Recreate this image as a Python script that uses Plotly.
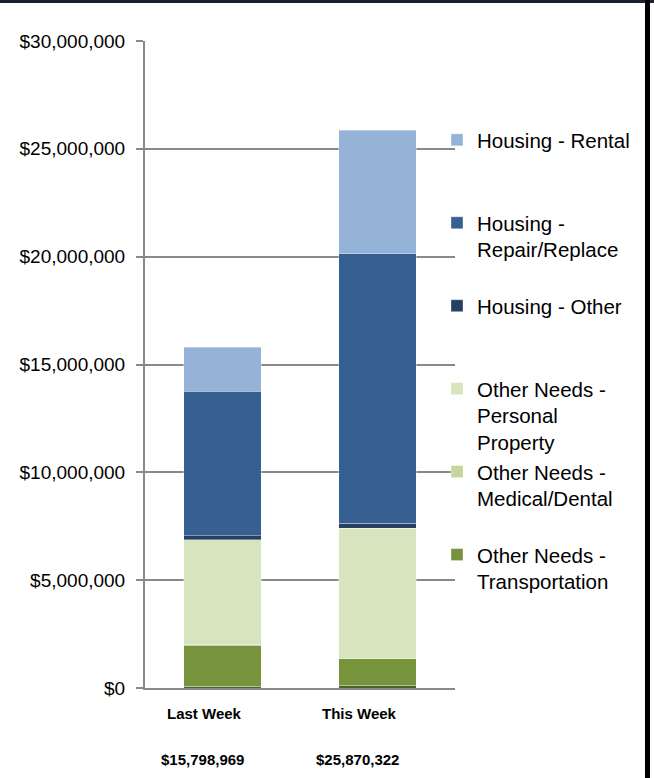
import plotly.graph_objects as go

# ---------------- data ----------------
categories = ["Last Week", "This Week"]
week_totals = ["$15,798,969", "$25,870,322"]

# stacked bottom -> top
series_names = [
    "Other Needs - Other",
    "Other Needs -<br>Transportation",
    "Other Needs -<br>Medical/Dental",
    "Other Needs -<br>Personal<br>Property",
    "Housing - Other",
    "Housing -<br>Repair/Replace",
    "Housing - Rental",
]
series_values = [
    [70000, 120000],          # Other Needs - Other
    [1920000, 1250000],       # Transportation
    [20000, 20000],           # Medical/Dental
    [4860000, 6020000],       # Personal Property
    [190000, 230000],         # Housing - Other
    [6710000, 12500000],      # Repair/Replace
    [2028969, 5730322],       # Rental
]
series_colors = ["#4F6228", "#77933C", "#C3D69B", "#D7E4BD", "#254061", "#376092", "#95B3D7"]
series_in_legend = [False, True, True, True, True, True, True]

y_tick_values = [0, 5000000, 10000000, 15000000, 20000000, 25000000, 30000000]
y_tick_labels = ["$0", "$5,000,000", "$10,000,000", "$15,000,000", "$20,000,000",
                 "$25,000,000", "$30,000,000"]

# ---------------- layout geometry ----------------
W, H = 654, 778
ML, MR, MT, MB = 145, 199, 41, 90
PW, PH = W - ML - MR, H - MT - MB


def px_x(px):
    return (px - ML) / PW


def px_y(py):
    return (H - MB - py) / PH


GRID = "#898989"
FONT = "Liberation Sans, Arial, sans-serif"

fig = go.Figure()
for name, vals, col, leg in zip(series_names, series_values, series_colors, series_in_legend):
    n_lines = name.count("<br>") + 1
    legend_name = name + "<br>\u00a0" * (3 - n_lines)
    fig.add_trace(go.Bar(
        x=categories, y=vals, name=legend_name, showlegend=leg,
        marker=dict(color=col, line=dict(color="rgba(255,255,255,0.45)", width=0.8)),
    ))

annotations = []
for cat, tot in zip(categories, week_totals):
    annotations.append(dict(x=cat, xref="x", y=px_y(713), yref="paper", text="<b>%s</b>" % cat,
                            showarrow=False, yanchor="middle", xshift=-18,
                            font=dict(family=FONT, size=15, color="#000")))
    annotations.append(dict(x=cat, xref="x", y=px_y(759), yref="paper", text="<b>%s</b>" % tot,
                            showarrow=False, yanchor="middle", xshift=-20,
                            font=dict(family=FONT, size=15, color="#000")))

shapes = [
    dict(type="rect", xref="paper", yref="paper", x0=px_x(0), x1=px_x(W), y0=px_y(0), y1=px_y(3),
         fillcolor="#17202c", line=dict(width=0), layer="above"),
    dict(type="rect", xref="paper", yref="paper", x0=px_x(645), x1=px_x(650), y0=px_y(0), y1=px_y(H),
         fillcolor="#000000", line=dict(width=0), layer="above"),
]

fig.update_layout(
    width=W, height=H,
    margin=dict(l=ML, r=MR, t=MT, b=MB, pad=0),
    paper_bgcolor="white", plot_bgcolor="white",
    barmode="stack", bargap=0.5,
    font=dict(family=FONT, size=19, color="#000"),
    showlegend=True,
    legend=dict(x=px_x(437), xanchor="left", y=px_y(120), yanchor="top",
                traceorder="reversed", valign="top",
                font=dict(family=FONT, size=20.5, color="#000"),
                bgcolor="rgba(0,0,0,0)", itemclick=False),
    xaxis=dict(showticklabels=False, showline=True, linecolor=GRID, linewidth=2,
               ticks="", showgrid=False, zeroline=False, fixedrange=True),
    yaxis=dict(range=[0, 30000000], tickvals=y_tick_values, ticktext=y_tick_labels,
               showgrid=True, gridcolor=GRID, gridwidth=2, zeroline=False,
               showline=True, linecolor=GRID, linewidth=2,
               ticks="outside", ticklen=7, tickcolor=GRID, tickwidth=2,
               ticklabelstandoff=7, tickfont=dict(family=FONT, size=19, color="#000"),
               fixedrange=True),
    annotations=annotations, shapes=shapes,
)

fig.write_html("out.html",
               config={"displayModeBar": False, "staticPlot": True},
               post_script="document.body.style.margin='0';document.body.style.overflow='hidden';")
